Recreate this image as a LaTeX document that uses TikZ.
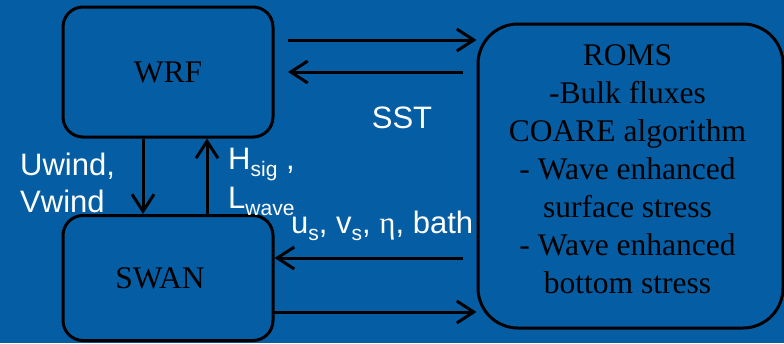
\documentclass[tikz,border=0pt]{standalone}
\usepackage{fontspec}
\setmainfont{Liberation Serif}
\newfontfamily\labelfont{Liberation Sans}
\usetikzlibrary{arrows.meta}
\definecolor{bgblue}{RGB}{5,94,164}
% lowered, smaller text for subscripts in the white labels
\newcommand\lowsub[1]{\raisebox{-7pt}{\fontsize{21}{21}\selectfont #1}}
\begin{document}
\begin{tikzpicture}[x=1pt,y=-1pt,
  model/.style={draw=black, line width=3pt, rounded corners=20pt, inner sep=0pt,
    font=\fontsize{31.5}{38}\selectfont},
  modeltext/.style={inner sep=0pt, align=center, font=\fontsize{31.5}{38}\selectfont},
  link/.style={draw=black, line width=3pt,
    -{Straight Barb[length=17pt,width=22pt,line width=3pt]}},
  lbl/.style={text=white, font=\labelfont\fontsize{31}{36}\selectfont,
    inner sep=0pt, anchor=base west}]
  \fill[bgblue] (0,0) rectangle (784,343);
  \useasboundingbox (0,0) rectangle (784,343);

  % model boxes
  \node[model, minimum width=210pt, minimum height=130pt] (wrf) at (168,72) {WRF};
  \node[model, minimum width=210pt, minimum height=125pt] (swan) at (168,278) {};
  \node[model, rounded corners=40pt, minimum width=305pt, minimum height=304pt] (roms) at (630.5,176) {};
  \node[modeltext] (swantxt) at ([shift={(-8,0)}]swan.center) {SWAN};
  \node[modeltext] (romstxt) at ([shift={(-3,-7)}]roms.center)
    {ROMS\\-Bulk fluxes\\COARE algorithm\\- Wave enhanced\\surface stress\\- Wave enhanced\\bottom stress};

  % free ends of the horizontal exchanges
  \coordinate (atmOut) at (288,40);
  \coordinate (sstIn) at (463,72);
  \coordinate (sstEnd) at (288,72);
  \coordinate (oceanOut) at (463,258);
  \coordinate (waveOut) at (273,312);

  % couplings
  \draw[link] (atmOut) -- (atmOut -| roms.west);
  \draw[link] (sstIn) -- (sstEnd);
  \draw[link] (oceanOut) -- (oceanOut -| swan.east);
  \draw[link] (waveOut) -- (waveOut -| roms.west);
  \draw[link] ([xshift=-25pt]wrf.south) -- ([xshift=-25pt]swan.north);
  \draw[link] ([xshift=39pt]swan.north) -- ([xshift=39pt]wrf.south);

  % exchanged fields
  \node[lbl] (uwind) at (20,175) {Uwind,};
  \node[lbl] (vwind) at (20,212) {Vwind};
  \node[lbl] (hsig) at (228,169) {H\lowsub{sig} ,};
  \node[lbl] (lwave) at (228,208) {L\lowsub{wave}};
  \node[lbl] (bath) at (291,233) {u\lowsub{s}, v\lowsub{s}, {\rmfamily η}, bath};
  \node[lbl, anchor=base] (sst) at (402,128) {SST};
\end{tikzpicture}
\end{document}
